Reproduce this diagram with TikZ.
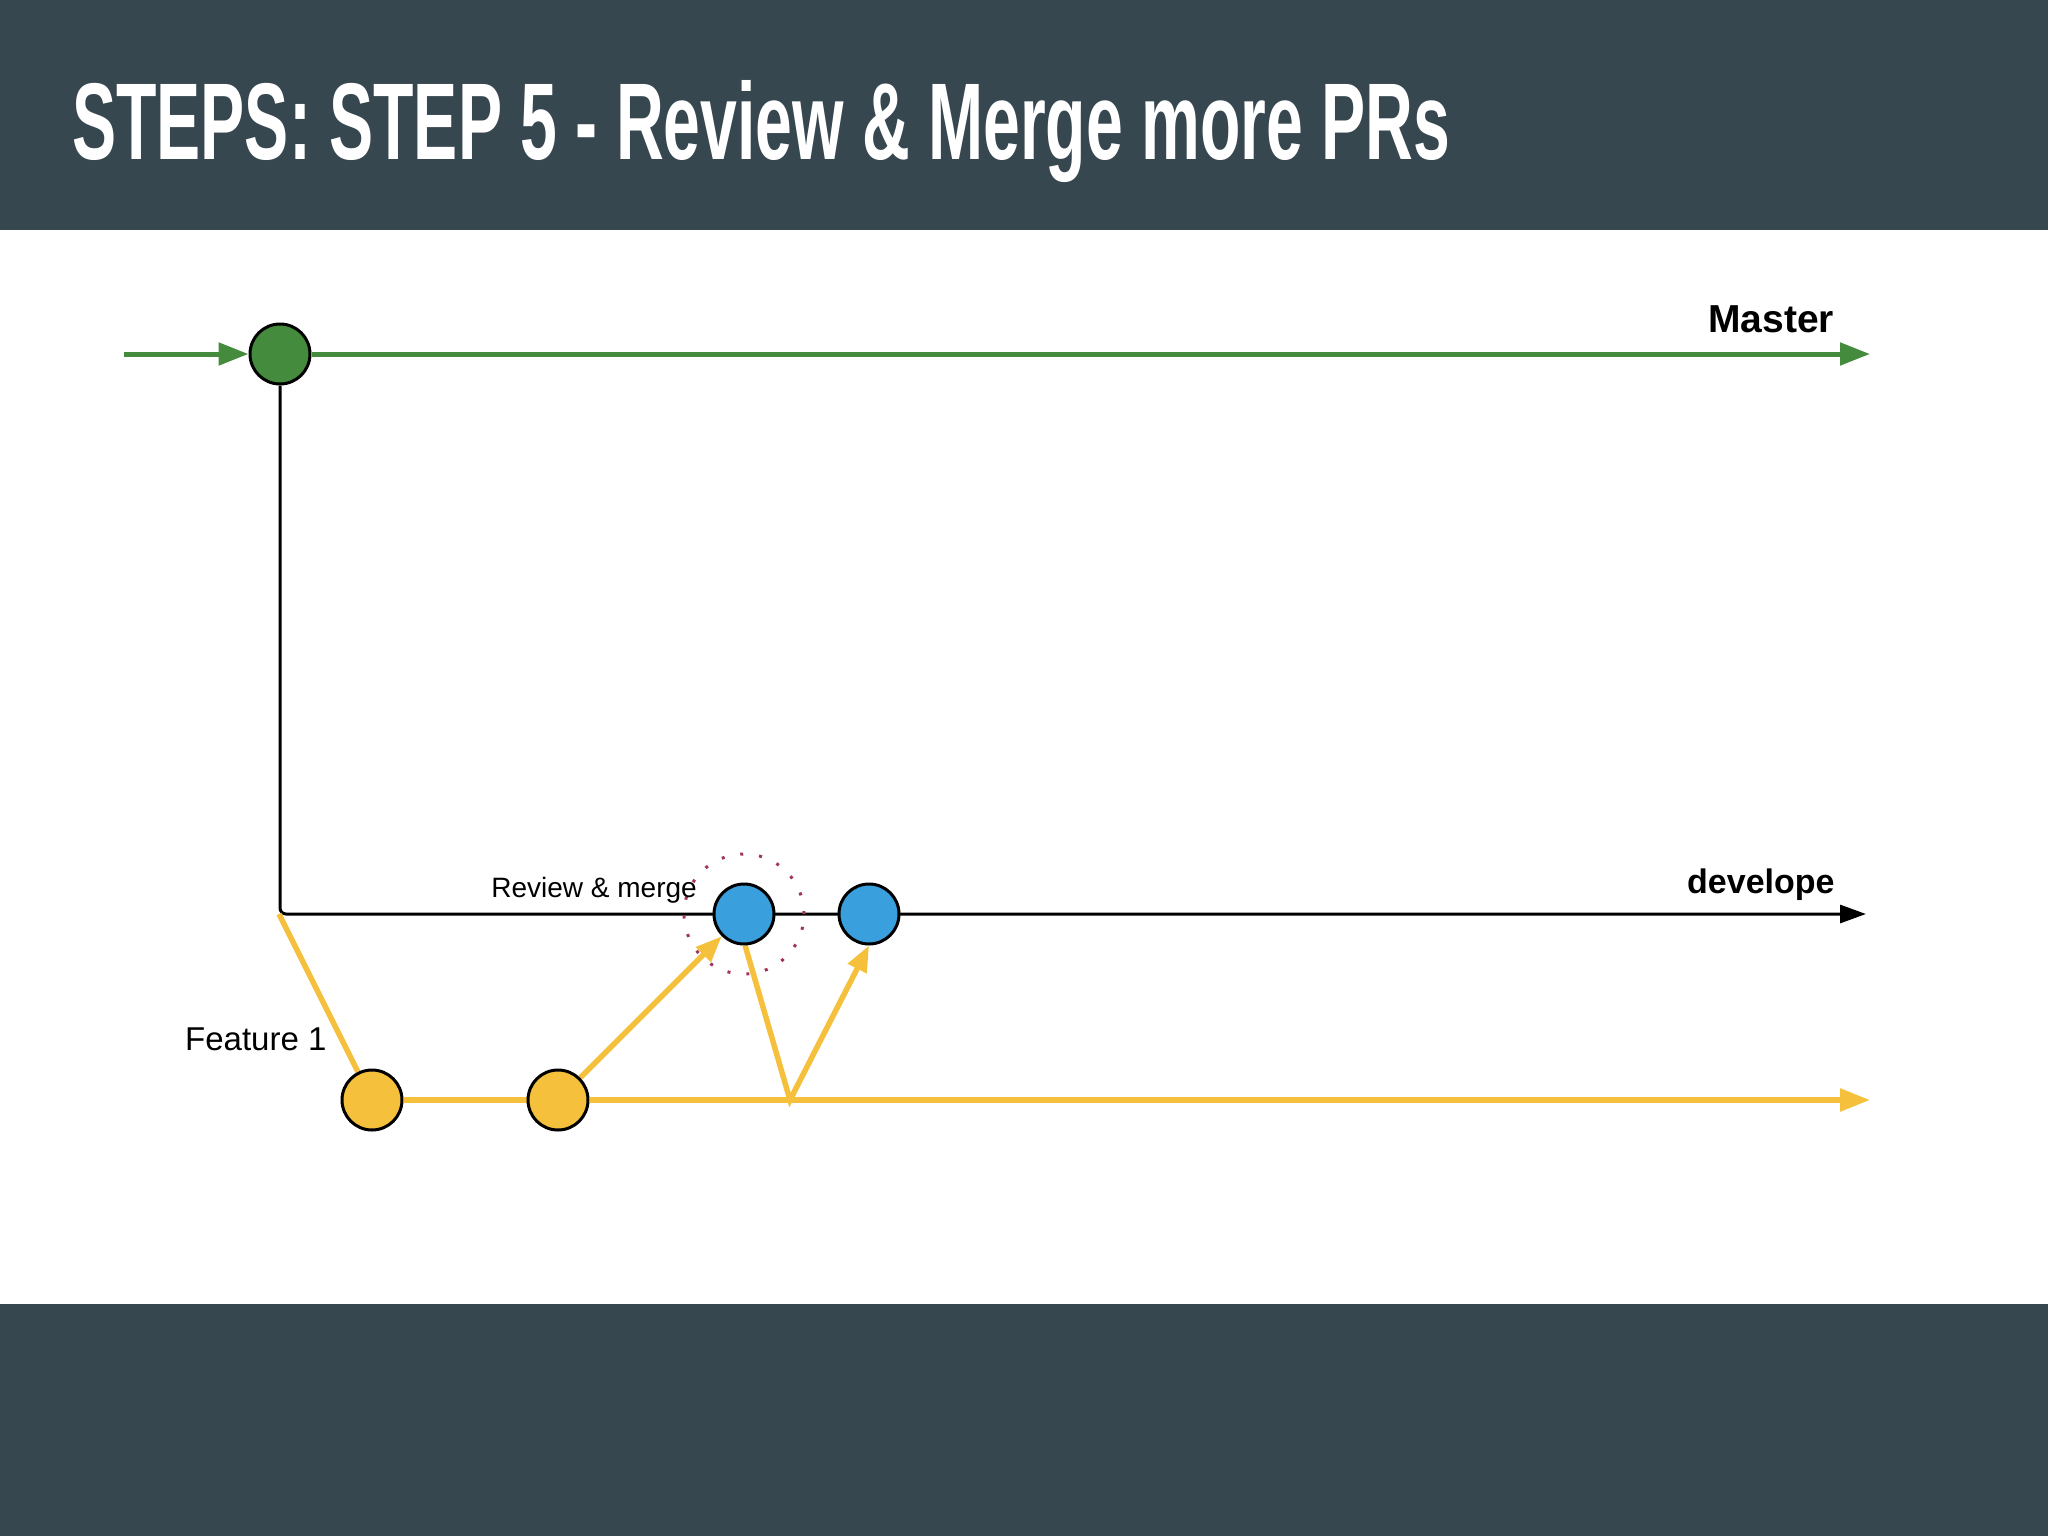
\documentclass[tikz,border=0pt]{standalone}
\usepackage{fontspec}
\usepackage{graphicx}
\setmainfont{Liberation Sans}
\usetikzlibrary{arrows.meta}
\pgfdeclarelayer{bg}
\pgfsetlayers{bg,main}
\definecolor{band}{HTML}{37474F}
\definecolor{mgreen}{HTML}{458B3E}
\definecolor{fyellow}{HTML}{F5C03B}
\definecolor{dblue}{HTML}{3A9FDD}
\definecolor{dotred}{HTML}{A0345A}
\begin{document}
\begin{tikzpicture}[x=1pt,y=-1pt,
  commit/.style={circle,draw=black,line width=3pt,minimum size=60pt,inner sep=0pt},
  lbl/.style={inner sep=0pt,text=black},
  gline/.style={draw=mgreen,line width=5pt},
  bline/.style={draw=black,line width=3pt},
  yline/.style={draw=fyellow,line width=5.5pt},
  gtip/.style={-{Triangle[length=30pt,width=22pt]}},
  btip/.style={-{Triangle[length=26pt,width=18pt]}},
  ytip/.style={-{Triangle[length=30pt,width=22pt]}},
  ysmall/.style={-{Triangle[length=26pt,width=20pt]}}
]
\useasboundingbox (0,0) rectangle (2048,1536);
\fill[band] (0,0) rectangle (2048,230);
\fill[band] (0,1304) rectangle (2048,1536);
\node[anchor=base west,inner sep=0pt,text=white] (title) at (72,159)
  {\resizebox{1378pt}{79pt}{\bfseries STEPS: STEP 5 - Review \& Merge more PRs}};

% commits
\node[commit,fill=mgreen] (g) at (280,354) {};
\node[commit,fill=dblue] (b1) at (744,914) {};
\node[commit,fill=dblue] (b2) at (869,914) {};
\node[commit,fill=fyellow] (y1) at (372,1100) {};
\node[commit,fill=fyellow] (y2) at (558,1100) {};
\node[circle,draw=dotred,line width=3pt,dash pattern=on 3pt off 16pt,minimum size=120pt,inner sep=0pt] (ring) at (744,914) {};

\coordinate (gstart) at (124,354);
\coordinate (gend) at (1870,354);
\coordinate (dend) at (1866,914);
\coordinate (fork) at (279,914);
\coordinate (v) at (790,1100);
\coordinate (yend) at (1870,1100);

% labels
\node[lbl,anchor=base west] (master) at (1708,332) {\fontsize{39}{42}\selectfont\bfseries Master};
\node[lbl,anchor=base west] (dev) at (1687,893) {\fontsize{34}{40}\selectfont\bfseries develope};
\node[lbl,anchor=base east] (rm) at (697,897) {\fontsize{28}{32}\selectfont Review \& merge};
\node[lbl,anchor=base west] (feat) at (185,1050) {\fontsize{33}{36}\selectfont Feature 1};

\begin{pgfonlayer}{bg}
\draw[gline,gtip] (gstart) -- (g);
\draw[gline,gtip] (g) -- (gend);
\draw[bline,btip,rounded corners=6pt] (g) |- (dend);
\draw[yline] (fork) -- (y1);
\draw[yline] (y1) -- (y2);
\draw[yline,ytip] (y2) -- (yend);
\draw[yline,ysmall] (y2) -- (b1);
\draw[yline,ysmall,line join=miter] (b1.-88) -- (v) -- (b2.south);
\end{pgfonlayer}
\end{tikzpicture}
\end{document}
